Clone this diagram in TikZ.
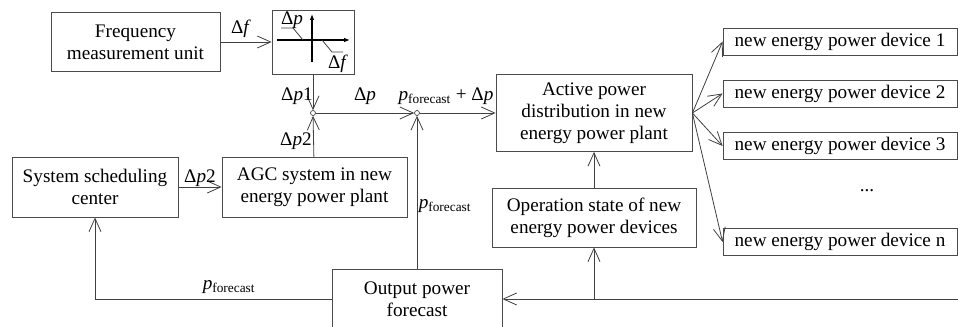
\documentclass[tikz,border=0pt]{standalone}
\usepackage{fontspec}
\setmainfont{Liberation Serif}
\usetikzlibrary{arrows.meta}

\newcommand{\dlt}[1]{Δ\textit{#1}}
\newcommand{\pfc}{\textit{p}\textsubscript{forecast}}

\begin{document}
\begin{tikzpicture}[
  x=0.75pt,
  y=-0.75pt,
  font=\fontsize{14.4}{16.5}\selectfont,
  block/.style 2 args={
    draw=black!70,
    line width=0.6pt,
    align=center,
    inner sep=0pt,
    minimum width=#1*0.75pt,
    minimum height=#2*0.75pt
  },
  junction/.style={
    circle,
    draw=black!75,
    fill=white,
    line width=0.5pt,
    minimum size=5*0.75pt,
    inner sep=0pt
  },
  signal/.style={
    draw=black!75,
    line width=0.6pt,
    -{Straight Barb[length=10pt,width=9pt]}
  },
  wire/.style={draw=black!75, line width=0.6pt},
  axis/.style={draw=black, line width=0.9pt, -{Latex[length=4.5pt,width=3.5pt]}},
  lbl/.style={inner sep=0pt}
]

\useasboundingbox (0,0) rectangle (958,327);

% blocks
\node[block={169}{59}] (fmu) at (135.5,42) {Frequency\\measurement unit};
\node[block={82}{64}] (droop) at (313,42) {};
\node[block={166}{60}] (ssc) at (95,187) {System scheduling\\center};
\node[block={185}{60}] (agc) at (314.5,187) {AGC system in new\\energy power plant};
\node[block={196}{77}] (apd) at (594,113) {Active power\\distribution in new\\energy power plant};
\node[block={204}{59}] (ops) at (594,217.5) {Operation state of new\\energy power devices};
\node[block={170}{60}] (opf) at (417,299) {Output power\\forecast};

\node[block={234}{27}] (dev1) at (840,41.5) {new energy power device 1};
\node[block={234}{27}] (dev2) at (840,93.5) {new energy power device 2};
\node[block={234}{27}] (dev3) at (840,146) {new energy power device 3};
\node[lbl] (dots) at (867,191) {...};
\node[block={234}{27}] (devn) at (840,242) {new energy power device n};

% summing points
\node[junction] (j1) at (313,113) {};
\node[junction] (j2) at (417,113) {};
\coordinate (feed) at (960,299);
\coordinate (tap) at (594,299);

% droop characteristic
\draw[axis] (277,40) -- (350,40);
\draw[axis] (312,62) -- (312,14);
\draw[wire] (281,28) -- (293,28) -- (303,40);
\draw[wire] (322,40) -- (332,52) -- (343,52);
\node[lbl] (dpaxis) at (292,20) {\dlt{p}};
\node[lbl] (dfaxis) at (338,64) {\dlt{f}};

% connections
\draw[signal] (fmu) -- (droop);
\draw[signal] (droop) -- (j1);
\draw[signal] (agc) -- (j1);
\draw[signal] (j1) -- (j2);
\draw[signal] (opf) -- (j2);
\draw[signal] (j2) -- (apd);
\draw[signal] (ssc) -- (agc);
\draw[signal] (opf.west) -| (ssc.south);
\draw[signal] (feed) -- (opf.east);
\draw[signal] (tap) -- (ops);
\draw[signal] (ops) -- (apd);
\draw[signal] (apd.east) -- (dev1.west);
\draw[signal] (apd.east) -- (dev2.west);
\draw[signal] (apd.east) -- (dev3.west);
\draw[signal] (apd.east) -- (devn.west);

% signal labels
\node[lbl] (df) at (241,29) {\dlt{f}};
\node[lbl] (dp1) at (297,96) {\dlt{p}1};
\node[lbl] (dp2) at (296,141) {\dlt{p}2};
\node[lbl] (dp) at (365,96) {\dlt{p}};
\node[lbl] (sum) at (446,96) {\pfc{} + \dlt{p}};
\node[lbl] (dp2s) at (200,178) {\dlt{p}2};
\node[lbl] (pf1) at (445,206) {\pfc};
\node[lbl] (pf2) at (229,287) {\pfc};

\end{tikzpicture}
\end{document}
